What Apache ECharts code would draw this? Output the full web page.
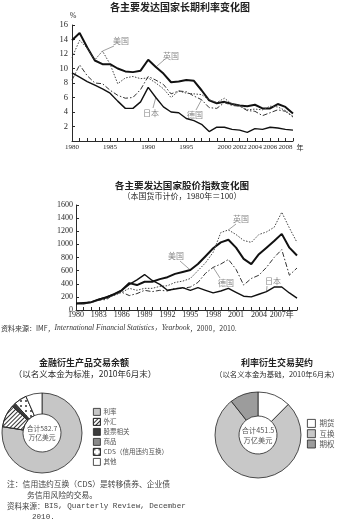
<!DOCTYPE html>
<html>
<head>
<meta charset="utf-8">
<script src="https://cdn.jsdelivr.net/npm/echarts@6.0.0/dist/echarts.min.js"></script>
<style>
html, body { margin: 0; padding: 0; background: #fff; }
#main { width: 342px; height: 520px; }
</style>
</head>
<body>
<div id="main"></div>
<script>
// years shared by both line charts
const years = [1980, 1981, 1982, 1983, 1984, 1985, 1986, 1987, 1988, 1989,
  1990, 1991, 1992, 1993, 1994, 1995, 1996, 1997, 1998, 1999,
  2000, 2001, 2002, 2003, 2004, 2005, 2006, 2007, 2008, 2009];

// long-term interest rate, %
const rateUK = [13.9, 14.9, 12.9, 11.1, 10.6, 10.6, 10.0, 9.6, 9.5, 9.7,
  11.2, 10.2, 9.3, 8.1, 8.2, 8.4, 8.3, 7.0, 5.6, 5.2,
  5.4, 5.1, 4.9, 4.8, 5.0, 4.5, 4.5, 5.1, 4.7, 3.8];
const rateUS = [11.5, 13.9, 12.8, 11.2, 12.4, 10.6, 7.9, 8.7, 8.9, 8.6,
  8.7, 8.0, 7.2, 6.0, 6.9, 6.6, 6.5, 6.4, 5.7, 5.3,
  5.9, 5.1, 4.9, 4.3, 4.4, 4.3, 4.8, 4.7, 4.2, 3.4];
const rateDE = [8.4, 10.5, 9.0, 8.0, 7.9, 7.0, 6.3, 5.9, 6.0, 7.1,
  8.9, 8.4, 7.8, 6.5, 6.9, 6.8, 6.2, 5.7, 4.6, 4.5,
  5.3, 4.9, 4.8, 4.2, 4.1, 3.5, 3.9, 4.3, 4.1, 3.3];
const rateJP = [9.4, 8.8, 8.2, 7.7, 7.2, 6.6, 5.5, 4.5, 4.5, 5.4,
  7.4, 6.0, 4.7, 4.0, 3.9, 3.1, 2.8, 2.3, 1.3, 1.9,
  1.9, 1.6, 1.5, 1.2, 1.7, 1.6, 1.9, 1.8, 1.6, 1.5];
const rateTickYears = [1980, 1985, 1990, 1995, 2000, 2002, 2004, 2006, 2008];

// stock price index, 1980 = 100
const stockUS = [100, 100, 120, 160, 190, 240, 300, 410, 380, 430,
  430, 470, 500, 550, 580, 610, 700, 820, 940, 1030,
  1070, 950, 780, 700, 850, 950, 1050, 1160, 950, 830];
const stockUK = [100, 105, 125, 150, 180, 220, 270, 330, 300, 330,
  330, 360, 370, 420, 440, 480, 600, 720, 880, 1180,
  1220, 1150, 1060, 1030, 1150, 1190, 1260, 1490, 1250, 1030];
const stockDE = [100, 100, 110, 150, 160, 240, 270, 220, 250, 300,
  280, 300, 290, 330, 330, 350, 420, 560, 650, 700,
  770, 620, 380, 480, 530, 650, 800, 920, 530, 640];
const stockJP = [100, 110, 120, 160, 200, 240, 300, 390, 460, 540,
  450, 390, 300, 320, 340, 300, 340, 300, 260, 290,
  330, 270, 210, 200, 240, 280, 350, 350, 260, 180];
const stockTickYears = [1980, 1983, 1986, 1989, 1992, 1995, 1998, 2001, 2004, 2007];

// derivatives outstanding, trillion USD, June 2010
const derivNames = ['利率', '外汇', '股票相关', '商品', 'CDS（信用违约互换）', '其他'];
const derivValues = [451.8, 53.2, 6.3, 2.9, 30.3, 38.2];
const irNames = ['期货', '互换', '期权'];
const irValues = [56.2, 347.5, 48.1];

const SERIF = "'Liberation Serif', 'Noto Sans CJK SC', serif";
const CJK = "'Noto Sans CJK SC', sans-serif";
const INK = '#2a2a2a';

function pairs(vals) {
  return years.map((y, i) => [y, vals[i]]);
}

function lineSeries(name, idx, vals, width, type, color) {
  return {
    name: name,
    type: 'line',
    xAxisIndex: idx,
    yAxisIndex: idx,
    data: pairs(vals),
    symbol: 'none',
    silent: true,
    lineStyle: { width: width, type: type, color: color }
  };
}

function xAxisBase(idx, ticks, fmt, size, margin) {
  return {
    type: 'value', gridIndex: idx, min: 1980, max: 2009, interval: 1,
    axisLine: { lineStyle: { color: INK, width: 1 } },
    axisTick: { inside: true, length: 3, lineStyle: { color: INK } },
    splitLine: { show: false },
    axisLabel: {
      margin: margin, fontSize: size, fontFamily: SERIF, color: INK,
      formatter: v => ticks.includes(v) ? fmt(v) : ''
    }
  };
}

function yAxisBase(idx, max, step, size, margin) {
  return {
    type: 'value', gridIndex: idx, min: 0, max: max, interval: step,
    axisLine: { show: true, lineStyle: { color: INK, width: 1 } },
    axisTick: { show: true, inside: true, length: 3, lineStyle: { color: INK } },
    splitLine: { show: false },
    axisLabel: { margin: margin, fontSize: size, fontFamily: SERIF, color: INK,
      formatter: v => (idx === 0 && v === 0) ? '' : String(v) }
  };
}

const hatch = { symbol: 'rect', symbolSize: 1, dashArrayX: [1, 0], dashArrayY: [1, 2], rotation: -Math.PI / 4, color: '#333' };
const dots = { symbol: 'circle', symbolSize: 1, dashArrayX: [[1.2, 2.3]], dashArrayY: [1.2, 2.3], color: '#333' };

const derivStyles = [
  { color: '#c6c6c6' },
  { color: '#ffffff', decal: hatch },
  { color: '#3c3c3c' },
  { color: '#8a8a8a' },
  { color: '#ffffff', decal: dots },
  { color: '#ffffff' }
];
const irStyles = [
  { color: '#ffffff' },
  { color: '#c8c8c8' },
  { color: '#9c9c9c' }
];

const chart = echarts.init(document.getElementById('main'), null, { renderer: 'canvas' });

chart.setOption({
  animation: false,
  backgroundColor: '#fff',
  grid: [
    { left: 72, top: 25, width: 221, height: 116 },
    { left: 76, top: 205, width: 221, height: 105 }
  ],
  xAxis: [
    xAxisBase(0, rateTickYears, v => String(v), 7, 3),
    xAxisBase(1, stockTickYears, v => v === 2007 ? '2007年' : String(v), 8, 1)
  ],
  yAxis: [
    yAxisBase(0, 16, 2, 8.5, 4),
    yAxisBase(1, 1600, 200, 8, 3)
  ],
  legend: [
    {
      data: derivNames, orient: 'vertical', left: 93, top: 408, padding: 0,
      itemWidth: 7, itemHeight: 7, itemGap: 2.2, selectedMode: false,
      icon: 'rect',
      itemStyle: { borderColor: '#222', borderWidth: 0.8 },
      textStyle: { fontSize: 6.5, fontFamily: CJK, color: '#555', padding: [0, 0, 0, -2] }
    },
    {
      data: irNames, orient: 'vertical', left: 307, top: 419, padding: 0,
      itemWidth: 8, itemHeight: 8, itemGap: 1.5, selectedMode: false,
      icon: 'rect',
      itemStyle: { borderColor: '#222', borderWidth: 0.8 },
      textStyle: { fontSize: 7.5, fontFamily: CJK, color: '#555', padding: [0, 0, 0, -1] }
    }
  ],
  series: [
    lineSeries('英国', 0, rateUK, 2, 'solid', '#111'),
    lineSeries('美国', 0, rateUS, 1, [1.5, 1.5], '#444'),
    lineSeries('德国', 0, rateDE, 1, [5, 2, 1.5, 2], '#333'),
    lineSeries('日本', 0, rateJP, 1.4, 'solid', '#111'),
    lineSeries('美国', 1, stockUS, 2, 'solid', '#111'),
    lineSeries('英国', 1, stockUK, 1, [1.5, 1.5], '#444'),
    lineSeries('德国', 1, stockDE, 1, [5, 2, 1.5, 2], '#333'),
    lineSeries('日本', 1, stockJP, 1.4, 'solid', '#111'),
    {
      type: 'pie', center: [42, 433], radius: [19, 40], startAngle: 90,
      silent: true, label: { show: false }, labelLine: { show: false },
      itemStyle: { borderColor: '#222', borderWidth: 0.8 },
      data: derivNames.map((n, i) => ({ name: n, value: derivValues[i], itemStyle: derivStyles[i] }))
    },
    {
      type: 'pie', center: [258, 435], radius: [19, 43], startAngle: 90,
      silent: true, label: { show: false }, labelLine: { show: false },
      itemStyle: { borderColor: '#222', borderWidth: 0.8 },
      data: irNames.map((n, i) => ({ name: n, value: irValues[i], itemStyle: irStyles[i] }))
    }
  ]
});

function txt(text, x, y, size, opts) {
  opts = opts || {};
  return {
    type: 'text', silent: true,
    style: Object.assign({
      text: text, x: x, y: y, fontSize: size, fontFamily: opts.font || CJK,
      fontWeight: opts.weight || 'normal', fill: opts.fill || INK,
      textAlign: opts.align || 'center', textVerticalAlign: 'middle'
    }, opts.extra || {})
  };
}

// series labels with leader lines pointing at a data point
const notes = [
  { grid: 0, text: '美国', x: 121, y: 41, year: 1984, vals: rateUS, from: [114, 46] },
  { grid: 0, text: '英国', x: 171, y: 56, year: 1991, vals: rateUK, from: [164, 60] },
  { grid: 0, text: '日本', x: 151, y: 113, year: 1991, vals: rateJP, from: [153, 108] },
  { grid: 0, text: '德国', x: 195, y: 115, year: 1997, vals: rateDE, from: [196, 110] },
  { grid: 1, text: '英国', x: 241, y: 219, year: 2000, vals: stockUK, from: [236, 224] },
  { grid: 1, text: '美国', x: 176, y: 256, year: 1995, vals: stockUS, from: [180, 261] },
  { grid: 1, text: '德国', x: 226, y: 283, year: 1998, vals: stockDE, from: [220, 278] },
  { grid: 1, text: '日本', x: 273, y: 281, year: 2005, vals: stockJP, from: [267, 286] }
];

const graphics = [
  txt('各主要发达国家长期利率变化图', 180, 7, 10, { weight: 'bold', fill: '#222' }),
  txt('%', 73, 16, 8, { font: SERIF }),
  txt('年', 300, 147, 7),
  txt('各主要发达国家股价指数变化图', 182, 185, 9.6, { weight: 'bold', fill: '#222' }),
  txt('（本国货币计价，1980年＝100）', 182, 196, 8),
  {
    type: 'text', silent: true,
    style: {
      text: '{a|资料来源：IMF，}{b|International Financial Statistics，Yearbook}{a|，2000，2010.}',
      x: 1, y: 328, textVerticalAlign: 'middle', textAlign: 'left',
      rich: {
        a: { fontSize: 7, fontFamily: CJK, fill: '#333' },
        b: { fontSize: 7.5, fontFamily: SERIF, fontStyle: 'italic', fill: '#333' }
      }
    }
  },
  txt('金融衍生产品交易余额', 84, 363, 9, { weight: 'bold', fill: '#222' }),
  txt('（以名义本金为标准，2010年6月末）', 85, 374, 8.5),
  txt('利率衍生交易契约', 277, 363, 9, { weight: 'bold', fill: '#222' }),
  txt('（以名义本金为基础，2010年6月末）', 277, 374, 7.4),
  txt('合计582.7\n万亿美元', 42, 433, 6.8, { fill: '#555', extra: { lineHeight: 9 } }),
  txt('合计451.5\n万亿美元', 258, 435, 7.2, { fill: '#555', extra: { lineHeight: 10 } }),
  txt('注：信用违约互换（CDS）是转移债券、企业债', 7, 484, 7.8, { align: 'left', fill: '#444' }),
  txt('务信用风险的交易。', 27, 495, 7.8, { align: 'left', fill: '#444' }),
  {
    type: 'text', silent: true,
    style: {
      text: '{a|资料来源：}{b|BIS, Quarterly Review, December}',
      x: 7, y: 506, textVerticalAlign: 'middle', textAlign: 'left',
      rich: {
        a: { fontSize: 7.5, fontFamily: CJK, fill: '#444' },
        b: { fontSize: 7.6, fontFamily: "'Liberation Mono', monospace", fill: '#444' }
      }
    }
  },
  txt('2010.', 32, 516.5, 7.6, { align: 'left', font: "'Liberation Mono', monospace", fill: '#444' })
];

notes.forEach(n => {
  const i = years.indexOf(n.year);
  const p = chart.convertToPixel({ gridIndex: n.grid }, [n.year, n.vals[i]]);
  graphics.push(txt(n.text, n.x, n.y, 8, { fill: '#8a8a8a' }));
  graphics.push({
    type: 'line', silent: true,
    shape: { x1: n.from[0], y1: n.from[1], x2: p[0], y2: p[1] },
    style: { stroke: '#777', lineWidth: 0.7 }
  });
});

chart.setOption({ graphic: graphics });
</script>
</body>
</html>
